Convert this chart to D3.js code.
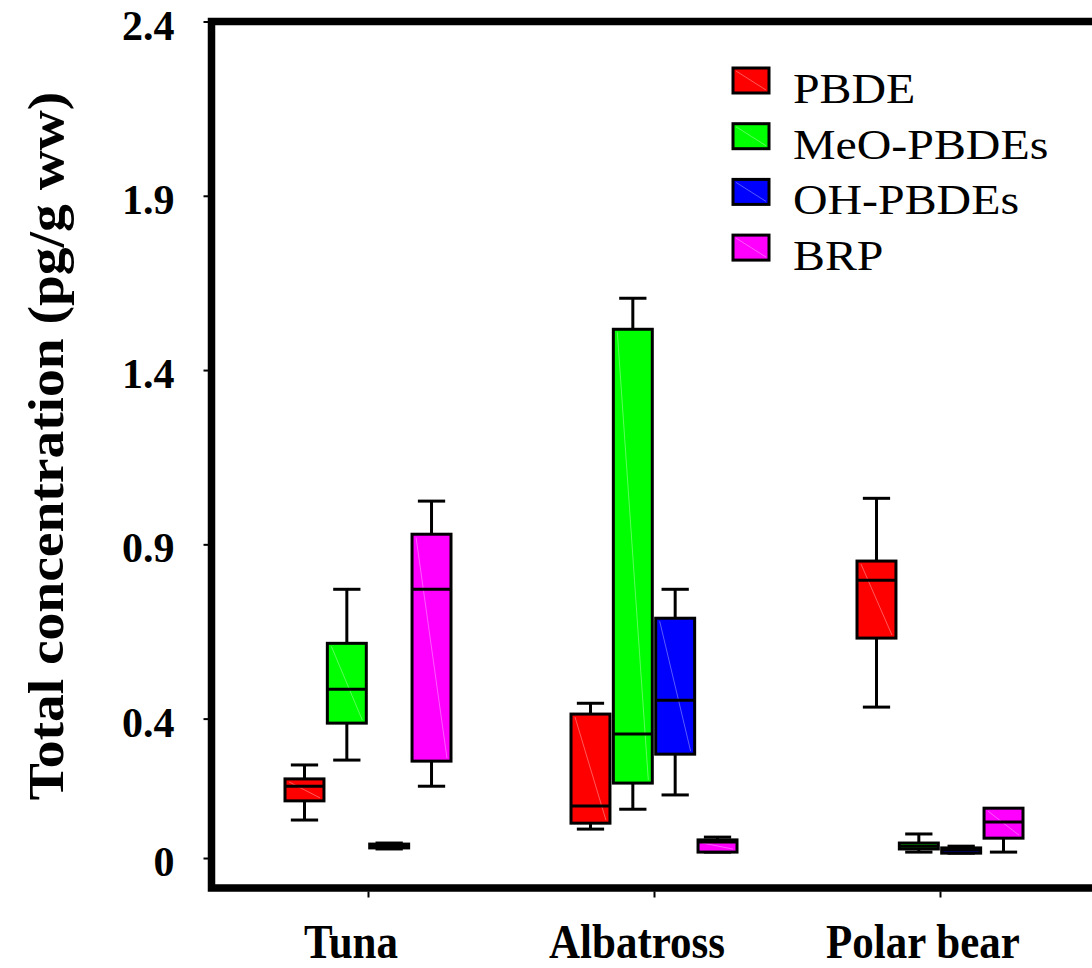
<!DOCTYPE html>
<html>
<head>
<meta charset="utf-8">
<script src="https://d3js.org/d3.v7.min.js"></script>
<style>
  body { margin: 0; background: #fff; }
  #chart { width: 1092px; height: 968px; overflow: hidden; }
  text { font-family: "Liberation Serif", "Times New Roman", serif; }
</style>
</head>
<body>
<div id="chart"></div>
<script>
// categories along the x axis
var categories = ["Tuna", "Albatross", "Polar bear"];
// series (one box per series inside each category)
var seriesNames = ["PBDE", "MeO-PBDEs", "OH-PBDEs", "BRP"];
var seriesColors = ["#ff0000", "#00ff00", "#0000ff", "#ff00ff"];
// y tick labels
var yTicks = [0, 0.4, 0.9, 1.4, 1.9, 2.4];

// box statistics per series, one entry per category: [min, q1, median, q3, max]
var pbde = [
  [0.109, 0.164, 0.206, 0.227, 0.267],
  [0.083, 0.100, 0.149, 0.413, 0.444],
  [0.433, 0.631, 0.797, 0.852, 1.032]
];
var meoPbdes = [
  [0.281, 0.387, 0.484, 0.616, 0.771],
  [0.140, 0.215, 0.356, 1.517, 1.606],
  [0.017, 0.026, 0.034, 0.043, 0.069]
];
var ohPbdes = [
  [0.026, 0.029, 0.034, 0.040, 0.043],
  [0.181, 0.298, 0.453, 0.688, 0.771],
  [0.014, 0.014, 0.023, 0.029, 0.034]
];
var brp = [
  [0.206, 0.278, 0.771, 0.929, 1.024],
  [0.017, 0.017, 0.046, 0.052, 0.060],
  [0.017, 0.057, 0.103, 0.143, 0.143]
];
var seriesStats = [pbde, meoPbdes, ohPbdes, brp];

var width = 1092, height = 968;
var frame = { left: 211.5, top: 21.5, bottom: 888, right: 1120 };

var svg = d3.select("#chart").append("svg")
    .attr("width", width)
    .attr("height", height);

var y = d3.scaleLinear()
    .domain([-0.086, 2.4])
    .range([frame.bottom, frame.top]);

var x = d3.scalePoint()
    .domain(categories)
    .range([368, 940]);

var inner = d3.scaleBand()
    .domain(seriesNames)
    .range([-83, 83])
    .paddingInner(0.08);

// boxes
var rows = [];
seriesNames.forEach(function(s, si) {
  categories.forEach(function(c, ci) {
    var st = seriesStats[si][ci];
    rows.push({ series: s, color: seriesColors[si], cat: c,
      min: st[0], q1: st[1], med: st[2], q3: st[3], max: st[4] });
  });
});

var bw = inner.bandwidth();
var boxes = svg.append("g").attr("class", "boxes")
  .selectAll("g")
  .data(rows)
  .join("g")
    .attr("transform", function(d) {
      return "translate(" + (x(d.cat) + inner(d.series)) + ",0)";
    });

// whiskers
boxes.append("line")
    .attr("x1", bw / 2).attr("x2", bw / 2)
    .attr("y1", function(d) { return y(d.max); })
    .attr("y2", function(d) { return y(d.min); })
    .attr("stroke", "#000").attr("stroke-width", 3);

boxes.selectAll("line.cap")
  .data(function(d) { return d.max > d.q3 ? [d.max, d.min] : [d.min]; })
  .join("line")
    .attr("class", "cap")
    .attr("x1", bw * 0.15).attr("x2", bw * 0.85)
    .attr("y1", function(v) { return y(v); })
    .attr("y2", function(v) { return y(v); })
    .attr("stroke", "#000").attr("stroke-width", 3);

boxes.append("rect")
    .attr("x", 0)
    .attr("width", bw)
    .attr("y", function(d) { return y(d.q3); })
    .attr("height", function(d) { return Math.max(y(d.q1) - y(d.q3), 1); })
    .attr("fill", function(d) { return d.color; })
    .attr("stroke", "#000").attr("stroke-width", 3);

// faint diagonal shading seam inside the boxes
boxes.filter(function(d) { return y(d.q1) - y(d.q3) > 8; })
  .append("line")
    .attr("x1", 4).attr("x2", bw - 4)
    .attr("y1", function(d) { return y(d.q3) + 3; })
    .attr("y2", function(d) { return y(d.q1) - 3; })
    .attr("stroke", "#fff").attr("stroke-opacity", 0.35).attr("stroke-width", 1);

boxes.append("line")
    .attr("x1", 0).attr("x2", bw)
    .attr("y1", function(d) { return y(d.med); })
    .attr("y2", function(d) { return y(d.med); })
    .attr("stroke", "#000").attr("stroke-width", 3);

// frame
svg.append("path")
    .attr("d", "M" + frame.right + "," + frame.top + "H" + frame.left + "V" + frame.bottom + "H" + frame.right)
    .attr("fill", "none")
    .attr("stroke", "#000")
    .attr("stroke-width", 7.5);

// y axis ticks + labels
var yAxis = svg.append("g")
    .attr("transform", "translate(" + (frame.left - 3) + ",0)")
    .call(d3.axisLeft(y).tickValues(yTicks).tickSize(5).tickPadding(29)
      .tickFormat(function(d) { return d === 0 ? "0" : d3.format(".1f")(d); }));
yAxis.select(".domain").remove();
yAxis.selectAll(".tick line").attr("stroke", "#000").attr("stroke-width", 2);
yAxis.selectAll(".tick text")
    .attr("font-family", "Liberation Serif, serif")
    .attr("font-size", 42)
    .attr("font-weight", "bold")
    .attr("fill", "#000")
    .attr("dy", "0.42em");

// x axis ticks + labels
var xAxis = svg.append("g")
    .attr("transform", "translate(0," + (frame.bottom + 3.5) + ")")
    .call(d3.axisBottom(x).tickSize(6).tickFormat(""));
xAxis.select(".domain").remove();
xAxis.selectAll(".tick line").attr("stroke", "#000").attr("stroke-width", 2);

svg.append("g").selectAll("text")
  .data(categories)
  .join("text")
    .attr("transform", function(d) { return "translate(" + (x(d) - 17) + ",958) scale(1,1.15)"; })
    .attr("text-anchor", "middle")
    .attr("font-size", 43)
    .attr("font-weight", "bold")
    .text(function(d) { return d; });

// y axis title
svg.append("text")
    .attr("transform", "translate(63,446) rotate(-90) scale(1.11,1)")
    .attr("text-anchor", "middle")
    .attr("font-size", 50)
    .attr("font-weight", "bold")
    .text("Total concentration (pg/g ww)");

// legend
var legend = svg.append("g")
    .attr("transform", "translate(733,68)");
var items = legend.selectAll("g")
  .data(seriesNames)
  .join("g")
    .attr("transform", function(d, i) { return "translate(0," + (i * 55.7) + ")"; });
items.append("rect")
    .attr("width", 36).attr("height", 25)
    .attr("fill", function(d, i) { return seriesColors[i]; })
    .attr("stroke", "#000").attr("stroke-width", 3);
items.append("line")
    .attr("x1", 3).attr("y1", 3).attr("x2", 33).attr("y2", 22)
    .attr("stroke", "#fff").attr("stroke-opacity", 0.35).attr("stroke-width", 1);
items.append("text")
    .attr("transform", "translate(60,35) scale(1.14,1)")
    .attr("font-size", 42)
    .attr("fill", "#000")
    .text(function(d) { return d; });
</script>
</body>
</html>
